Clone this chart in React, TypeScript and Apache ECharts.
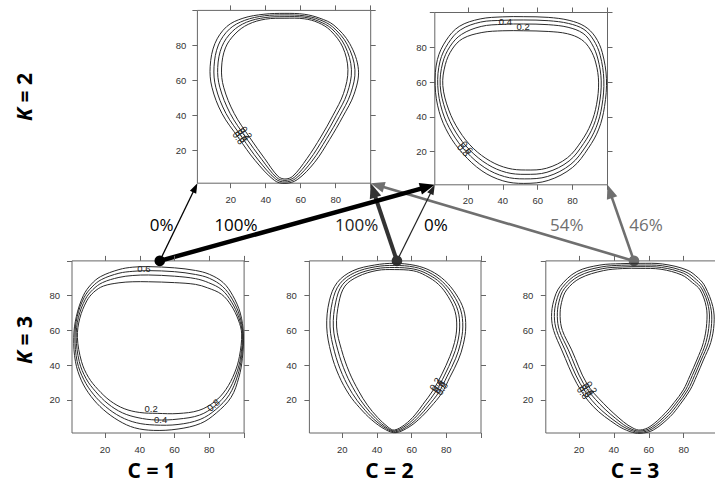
import React, { useEffect, useRef } from 'react';
import * as echarts from 'echarts';

// ---------- axis values ----------
const AXIS_MIN = 1;
const AXIS_MAX = 100;
const TICK_VALUES = [20, 40, 60, 80, 100];
const TICK_LABEL_VALUES = [20, 40, 60, 80];
const LEVELS = ['0.8', '0.6', '0.4', '0.2'];

// ---------- K = 2, cluster 1 (top left) ----------
const K2_1_08 = [[51,98.3],[62,97.8],[71,95.5],[79,91.5],[88,81],[93,66],[90.5,52],[84,39],[76.5,26],[68,13],[58,3],[51,0.9],[45,2.6],[34,14],[24.5,27],[15,41],[9.3,56],[8.3,68],[11,81],[17.7,90.7],[27,95.5],[39,97.8]];
const K2_1_06 = [[51,97.4],[62,96.9],[70.7,94.7],[78.3,90.5],[86.7,80.3],[91,66],[88.5,52.2],[82.2,39.3],[74.8,26.5],[66.5,13.7],[57.2,3.7],[51,1.7],[45.7,3.4],[35.8,14.3],[26.7,27],[17.3,41],[11.5,56],[10.5,67.7],[13,80.2],[19.3,89.3],[28,94.3],[39.3,96.9]];
const K2_1_04 = [[51,96.4],[62,96.1],[70.3,93.8],[77.7,89.5],[85.3,79.7],[89,66],[86.5,52.3],[80.3,39.7],[73.2,27],[65,14.3],[56.3,4.3],[51,2.6],[46.3,4.2],[37.7,14.7],[28.8,27],[19.7,41],[13.8,56],[12.6,67.3],[15,79.3],[20.9,87.9],[29,93.2],[39.7,95.9]];
const K2_1_02 = [[51,95.5],[62,95.2],[70,93],[77,88.5],[84,79],[87,66],[84.5,52.5],[78.5,40],[71.5,27.5],[63.5,15],[55.5,5],[51,3.4],[47,5],[39.5,15],[31,27],[22,41],[16,56],[14.8,67],[17,78.5],[22.5,86.5],[30,92],[40,95]];
const K2_1_LABELS = [[24.5,27,'0.8',-55],[26,28,'0.6',-55],[27.5,29,'0.4',-55],[29,30,'0.2',-55]];

// ---------- K = 2, cluster 2 (top right) ----------
const K2_2_08 = [[52,97.6],[66,97.2],[78,95.5],[87,92],[93,86],[97,77],[99.4,62],[98.3,46],[95,33],[89,22],[80,11],[66,3.5],[52,1.8],[40,3.3],[28,9],[17,19],[9,30],[3.5,43],[1.2,58],[2.5,73],[7.5,84],[15,92],[27,96.3],[40,97.5]];
const K2_2_06 = [[52,95.7],[66,95.3],[77.7,93.7],[86.5,90.3],[92,84.2],[95.8,75.4],[97.9,61.3],[96.8,46.3],[93.5,34],[87.7,23.3],[79,12.8],[65.7,5.8],[52.3,4.4],[41,5.7],[29.7,10.8],[19,20],[11,30.7],[5.3,43.3],[2.7,58],[4,72],[8.7,82.3],[15.7,90],[27.3,94.5],[40,95.5]];
const K2_2_04 = [[52,93.4],[66,93],[77.4,91.5],[86,88],[91,82],[94.5,73.3],[96.4,60.7],[95.2,46.7],[92,35],[86.3,24.7],[78,14.7],[65.3,8.2],[52.7,7],[42,8.1],[31.3,12.7],[21,21],[13,31.3],[7.2,43.7],[4.1,58],[5.5,71],[9.8,80.6],[16.3,87.4],[27.6,92],[40,93.2]];
const K2_2_02 = [[52,89.5],[66,89.1],[77,87.8],[85,84.5],[90,79],[93.3,71],[94.9,60],[93.7,47],[90.5,36],[85,26],[77,16.5],[65,10.5],[53,9.5],[43,10.5],[33,14.5],[23,22],[15,32],[9,44],[5.6,58],[7,70],[11,79],[17,85],[28,88.5],[40,89.5]];
const K2_2_LABELS = [[41.5,95.1,'0.4',0],[51.6,91.8,'0.2',0],[17.5,21,'0.8',-48],[19.5,22.5,'0.6',-48]];

// ---------- K = 3, cluster 1 ----------
const K3_1_08 = [[45,96.7],[60,96],[72,94.5],[80,92.3],[88,87.5],[93.5,80],[97.8,70],[99.6,58],[99,44],[97,33],[92.5,21.5],[84,12.5],[75,6.5],[62,3.3],[48,2.5],[37,4],[28,8],[19,14.5],[12,22],[6.5,31],[3,42],[2,56],[3.5,68],[7.5,80],[12,86.5],[17.5,91],[28,95],[36,96.4]];
const K3_1_06 = [[45,94.4],[60,93.8],[72,92.2],[80,90],[87.7,85.2],[93.2,78],[97.4,68.6],[99.3,58],[98.5,44.3],[96.2,33.8],[91.5,23],[83.7,14.5],[74.7,8.8],[62,5.9],[48.5,5.6],[38,6.9],[29,10.3],[20.3,16.2],[13.3,23.3],[7.8,31.7],[4,42],[2.7,56],[4,68],[8,79],[12.5,85],[18,89.3],[28,92.9],[36,94]];
const K3_1_04 = [[45,91.9],[60,91.2],[72,89.8],[79.5,87.5],[87.3,83.3],[92.8,76.3],[97,67.3],[99,58],[98,44.7],[95.4,34.7],[90.5,24.5],[83.4,16.7],[74.4,11.3],[62,9],[49.2,8.5],[39,9.8],[30,12.6],[21.7,17.8],[14.7,24.7],[9.1,32.3],[5.2,42],[3.4,56],[4.7,67.5],[8.7,78],[13,83.5],[18.5,87.5],[28,90.5],[36,91.6]];
const K3_1_02 = [[45,88],[60,87.5],[72,86.5],[79,84.5],[87,80.8],[92.5,74.5],[96.7,66],[98.6,58],[97.3,45],[94.5,35.5],[89.5,26],[83,19],[74,14],[62,12.2],[50,12.3],[40,12.8],[31,15],[23,19.5],[16,26],[10.5,33],[6.5,42],[4.1,56],[5.5,67],[9.5,77],[13.5,82],[19,85.5],[28,87.4],[36,88]];
const K3_1_LABELS = [[42.4,95.7,'0.6',0],[46.5,15,'0.2',0],[52,8.6,'0.4',0],[82.3,17.1,'0.8',40]];

// ---------- K = 3, cluster 2 ----------
const K3_2_08 = [[50,98.6],[62,97.4],[71,94.3],[79,88.8],[85.5,81],[90,72],[91.2,62],[89.8,52],[86.9,43],[82,33],[77.3,23.8],[71,16],[65.8,10.4],[59,4.8],[51,1.2],[45,2.9],[37,8.5],[30,15.5],[24,23],[18,34],[13.5,47],[11,62],[12.5,77],[17,87.5],[26,94.3],[38.5,97.6]];
const K3_2_06 = [[50,97.4],[61.7,96.4],[70,93.4],[77.8,88],[84,80.5],[88.3,71.7],[89.5,62],[88.1,52.3],[85.3,43.7],[80.5,33.7],[75.7,24.5],[69.5,16.5],[64.5,10.7],[58,5.1],[50.7,1.7],[45.5,3.4],[38.2,8.9],[31.5,16],[25.8,23.7],[20,34.7],[15.5,47.7],[12.9,62],[14.3,76.7],[18.5,86.8],[27,93.2],[39,96.6]];
const K3_2_04 = [[50,96.2],[61.3,95.3],[69,92.5],[76.7,87.3],[82.5,80],[86.7,71.3],[87.7,62],[86.4,52.7],[83.6,44.3],[79,34.3],[74.1,25.1],[68,17],[63.2,11.1],[57,5.5],[50.3,2.2],[46,3.8],[39.3,9.4],[33,16.5],[27.7,24.3],[22,35.3],[17.5,48.3],[14.8,62],[16.2,76.3],[20,86.2],[28,92.1],[39.5,95.5]];
const K3_2_02 = [[50,95],[61,94.3],[68,91.6],[75.5,86.5],[81,79.5],[85,71],[86,62],[84.7,53],[82,45],[77.5,35],[72.5,25.8],[66.5,17.5],[61.9,11.4],[56,5.8],[50,2.7],[46.5,4.3],[40.5,9.8],[34.5,17],[29.5,25],[24,36],[19.5,49],[16.7,62],[18,76],[21.5,85.5],[29,91],[40,94.5]];
const K3_2_LABELS = [[77.4,26.5,'0.8',57],[76.1,27.4,'0.6',57],[74.8,28.3,'0.4',57],[73.5,29.2,'0.2',57]];

// ---------- K = 3, cluster 3 ----------
const K3_3_08 = [[55,98.6],[68,98.2],[81.8,94.8],[88.5,90],[92.3,85.2],[96.7,73.7],[97.4,64],[95.5,53],[91.3,43],[87.5,34],[83.7,25.8],[78,17.5],[72.2,10.4],[62.6,2.7],[55,0.8],[49.3,1.8],[41.6,5.6],[28.2,16.2],[18.7,29.6],[10.1,48.8],[5.5,60],[4.3,68],[5.5,77],[9.1,85.2],[18.7,93.8],[32,97.6],[44,98.4]];
const K3_3_06 = [[55,97.6],[67.7,97.2],[80.8,93.8],[87.3,89.2],[91.3,84.6],[95.4,73.7],[96,64],[94.1,53],[90,43],[86.2,34],[82.4,25.8],[76.8,17.8],[71.2,11],[62,3.4],[55,1.4],[49.9,2.5],[42.9,6.2],[30.1,16.8],[20.6,29.6],[12,48.8],[7.2,60],[5.9,68],[7,76.7],[10.4,84.6],[19.3,92.5],[32.7,96.5],[44.3,97.5]];
const K3_3_04 = [[55,96.7],[67.3,96.2],[79.9,92.9],[86.2,88.3],[90.4,83.9],[94.2,73.7],[94.6,64],[92.7,53],[88.8,43],[84.9,34],[81.1,25.8],[75.7,18.2],[70.3,11.7],[61.3,4],[55,2.1],[50.4,3.1],[44.1,6.9],[32.1,17.5],[22.5,29.6],[13.9,48.8],[8.8,60],[7.6,68],[8.5,76.3],[11.6,84],[20,91.3],[33.3,95.5],[44.7,96.5]];
const K3_3_02 = [[55,95.7],[67,95.2],[78.9,91.9],[85,87.5],[89.4,83.3],[92.9,73.7],[93.2,64],[91.3,53],[87.5,43],[83.6,34],[79.8,25.8],[74.5,18.5],[69.3,12.3],[60.7,4.7],[55,2.7],[51,3.8],[45.4,7.5],[34,18.1],[24.4,29.6],[15.8,48.8],[10.5,60],[9.2,68],[10,76],[12.9,83.3],[20.6,90],[34,94.4],[45,95.6]];
const K3_3_LABELS = [[22.3,24.2,'0.8',-54],[23.9,25.2,'0.6',-54],[25.5,26.2,'0.4',-54],[27.1,27.2,'0.2',-54]];

const PANEL_CONTOURS = [
  [K2_1_08, K2_1_06, K2_1_04, K2_1_02],
  [K2_2_08, K2_2_06, K2_2_04, K2_2_02],
  [K3_1_08, K3_1_06, K3_1_04, K3_1_02],
  [K3_2_08, K3_2_06, K3_2_04, K3_2_02],
  [K3_3_08, K3_3_06, K3_3_04, K3_3_02],
];
const PANEL_LABELS = [K2_1_LABELS, K2_2_LABELS, K3_1_LABELS, K3_2_LABELS, K3_3_LABELS];

// ---------- transitions K=3 -> K=2 ----------
const TRANS_FROM = [0, 0, 1, 1, 2, 2];          // K = 3 cluster
const TRANS_TO = [0, 1, 0, 1, 0, 1];            // K = 2 cluster
const TRANS_PCT = ['0%', '100%', '100%', '0%', '54%', '46%'];
const TRANS_TARGET = [[1, 1], [1, 1], [100, 1], [1, 1], [100, 1], [100, 1]];
const SOURCE_POINT = [51.5, 100];

const ROW_LABELS = ['K = 2', 'K = 3'];
const COL_LABELS = ['C = 1', 'C = 2', 'C = 3'];

// ---------- layout (pixels) ----------
const GRID_RECTS = [
  { left: 197.4, top: 10.4, width: 173.3, height: 172.8 },
  { left: 434.8, top: 12.5, width: 172.7, height: 172.3 },
  { left: 72, top: 260.9, width: 172.1, height: 172.1 },
  { left: 309.4, top: 260.9, width: 171.6, height: 172.1 },
  { left: 545.8, top: 260.9, width: 172.8, height: 172.1 },
];
const Y_LABEL_MARGIN = [11, 8, 12, 12.5, 12.5];
const PCT_POS = [[161.7, 224], [236, 224], [356.7, 224], [436, 224], [566.7, 224], [646, 224]];
const ARROW_STYLE = [
  { color: '#000', lw: 1.3, hl: 10, hw: 7 },
  { color: '#000', lw: 4.5, hl: 15, hw: 12 },
  { color: '#333', lw: 4, hl: 15, hw: 12 },
  { color: '#222', lw: 1.2, hl: 10, hw: 7 },
  { color: '#6f6f6f', lw: 2.6, hl: 14, hw: 11 },
  { color: '#6f6f6f', lw: 2.6, hl: 14, hw: 11 },
];
const PCT_COLOR = ['#000', '#000', '#222', '#000', '#6f6f6f', '#6f6f6f'];
const DOT_COLOR = ['#000', '#333', '#6f6f6f'];
const COL_X = [151.7, 389.3, 635];
const ROW_Y = [97, 340];

const FRAME = '#666';
const TICK_FONT = 'Liberation Sans';

export default function App() {
  const ref = useRef<HTMLDivElement>(null);

  useEffect(() => {
    document.body.style.margin = '0';
    const chart = echarts.init(ref.current!, null, { renderer: 'svg' });

    const grid: any[] = [];
    const xAxis: any[] = [];
    const yAxis: any[] = [];
    const series: any[] = [];

    PANEL_CONTOURS.forEach((contours, p) => {
      const r = GRID_RECTS[p];
      grid.push({
        left: r.left, top: r.top, width: r.width, height: r.height,
        show: true, borderColor: FRAME, borderWidth: 1, backgroundColor: 'transparent',
        containLabel: false, outerBoundsMode: 'none',
      });
      const common = {
        type: 'value', min: AXIS_MIN, max: AXIS_MAX, gridIndex: p,
        splitLine: { show: false },
        axisLine: { show: false, onZero: false },
        axisTick: { show: true, inside: false, length: 5, customValues: TICK_VALUES, lineStyle: { color: FRAME, width: 1 } },
      };
      xAxis.push({
        ...common, position: 'bottom',
        axisLabel: { show: true, customValues: TICK_LABEL_VALUES, margin: 11, fontSize: 9.5, color: '#333', fontFamily: TICK_FONT },
      });
      xAxis.push({ ...common, position: 'top', axisLabel: { show: false } });
      yAxis.push({
        ...common, position: 'left',
        axisLabel: { show: true, customValues: TICK_LABEL_VALUES, margin: Y_LABEL_MARGIN[p], fontSize: 9.5, color: '#333', fontFamily: TICK_FONT },
      });
      yAxis.push({ ...common, position: 'right', axisLabel: { show: false } });

      series.push({
        type: 'custom',
        xAxisIndex: 2 * p, yAxisIndex: 2 * p,
        data: contours.map((c, i) => [c[0][0], c[0][1], i]),
        silent: true,
        renderItem: (params: any, api: any) => {
          const pts = contours[params.dataIndex].map((q) => api.coord(q));
          return {
            type: 'polygon',
            shape: { points: pts, smooth: 0.35 },
            style: { fill: 'none', stroke: '#2a2a2a', lineWidth: 1 },
          };
        },
      });
      const labels = PANEL_LABELS[p];
      series.push({
        type: 'custom',
        xAxisIndex: 2 * p, yAxisIndex: 2 * p,
        data: labels.map((l) => [l[0], l[1]]),
        silent: true,
        renderItem: (params: any, api: any) => {
          const l = labels[params.dataIndex];
          const pt = api.coord([l[0], l[1]]);
          return {
            type: 'text',
            x: pt[0], y: pt[1],
            rotation: ((l[3] as number) * Math.PI) / 180,
            style: {
              text: l[2], fill: '#222', font: `9.5px "${TICK_FONT}"`,
              align: 'center', verticalAlign: 'middle',
            },
          };
        },
      });
    });

    chart.setOption({ animation: false, grid, xAxis, yAxis, series });

    // arrows built from the panels' own coordinate systems
    const elements: any[] = [];
    const order = [4, 5, 3, 2, 0, 1];
    order.forEach((i) => {
      const srcPanel = 2 + TRANS_FROM[i];
      const dstPanel = TRANS_TO[i];
      const s = chart.convertToPixel({ seriesIndex: 2 * srcPanel }, SOURCE_POINT) as number[];
      const t = chart.convertToPixel({ seriesIndex: 2 * dstPanel }, TRANS_TARGET[i]) as number[];
      const st = ARROW_STYLE[i];
      const dx = t[0] - s[0];
      const dy = t[1] - s[1];
      const len = Math.hypot(dx, dy);
      const ux = dx / len;
      const uy = dy / len;
      const nx = -uy;
      const ny = ux;
      const bx = t[0] - ux * st.hl;
      const by = t[1] - uy * st.hl;
      elements.push({
        type: 'line', silent: true,
        shape: { x1: s[0], y1: s[1], x2: t[0] - ux * st.hl * 0.7, y2: t[1] - uy * st.hl * 0.7 },
        style: { stroke: st.color, lineWidth: st.lw },
      });
      elements.push({
        type: 'polygon', silent: true,
        shape: { points: [[t[0], t[1]], [bx + (nx * st.hw) / 2, by + (ny * st.hw) / 2], [bx - (nx * st.hw) / 2, by - (ny * st.hw) / 2]] },
        style: { fill: st.color },
      });
    });
    [0, 1, 2].forEach((c) => {
      const s = chart.convertToPixel({ seriesIndex: 2 * (2 + c) }, SOURCE_POINT) as number[];
      elements.push({ type: 'circle', silent: true, shape: { cx: s[0], cy: s[1], r: 5.3 }, style: { fill: DOT_COLOR[c] } });
    });
    TRANS_PCT.forEach((txt, i) => {
      elements.push({
        type: 'text', silent: true, x: PCT_POS[i][0], y: PCT_POS[i][1],
        style: { text: txt, fill: PCT_COLOR[i], font: '17px "Open Sans"', align: 'center', verticalAlign: 'middle' },
      });
    });
    COL_LABELS.forEach((txt, i) => {
      elements.push({
        type: 'text', silent: true, x: COL_X[i], y: 470,
        style: { text: txt, fill: '#000', font: 'bold 21px "Open Sans"', align: 'center', verticalAlign: 'middle' },
      });
    });
    ROW_LABELS.forEach((txt, i) => {
      elements.push({
        type: 'text', silent: true, x: 24, y: ROW_Y[i], rotation: Math.PI / 2,
        style: {
          text: '{k|K}' + txt.slice(1),
          fill: '#000', font: 'bold 21px "Open Sans"', align: 'center', verticalAlign: 'middle',
          rich: { k: { fontStyle: 'italic', fontWeight: 'bold', fontSize: 21, fontFamily: 'Open Sans', fill: '#000' } },
        },
      });
    });
    chart.setOption({ graphic: { elements } });

    return () => chart.dispose();
  }, []);

  return <div ref={ref} style={{ width: 715, height: 484 }} />;
}
